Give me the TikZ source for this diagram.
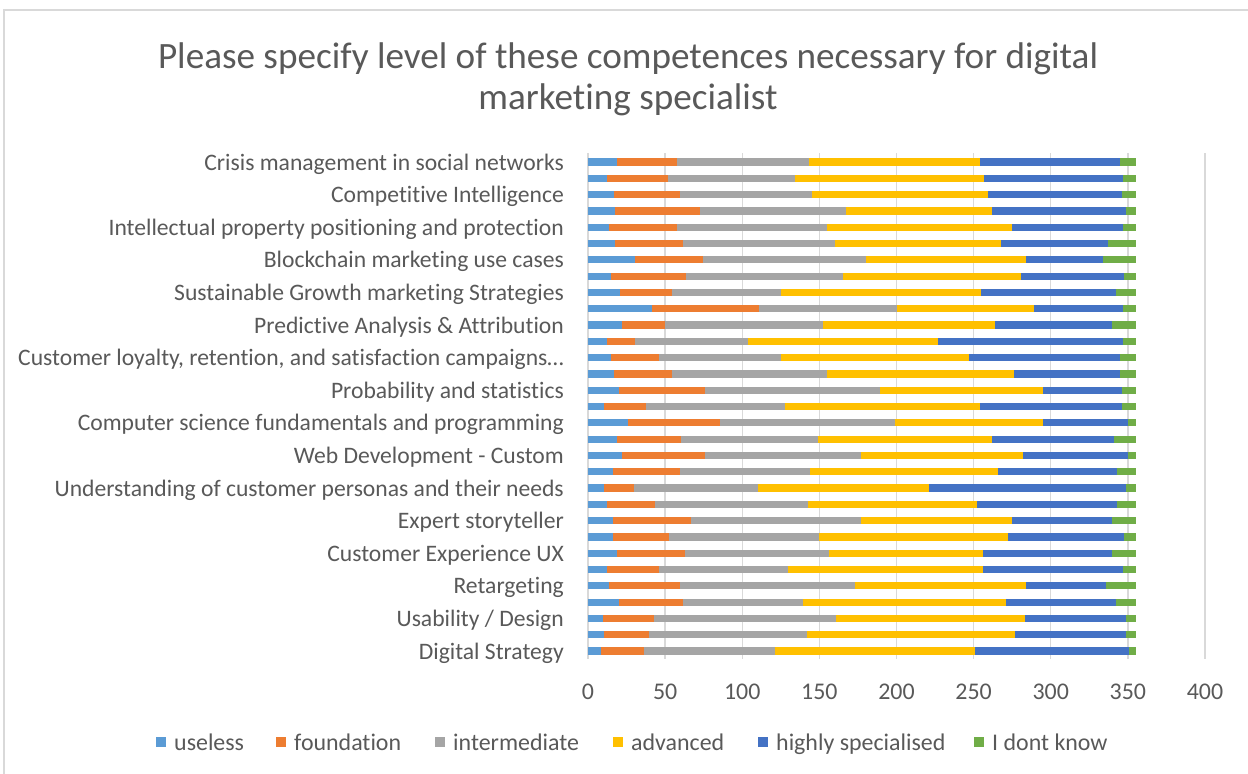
\documentclass[tikz,border=0pt]{standalone}
\usepackage{fontspec}
\setmainfont{Carlito}[Ligatures=NoCommon]
\definecolor{txt}{HTML}{595959}
\definecolor{gridc}{HTML}{D9D9D9}
\definecolor{cU}{HTML}{5B9BD5}
\definecolor{cF}{HTML}{ED7D31}
\definecolor{cI}{HTML}{A5A5A5}
\definecolor{cA}{HTML}{FFC000}
\definecolor{cH}{HTML}{4472C4}
\definecolor{cD}{HTML}{70AD47}
\tikzset{
  gridline/.style={draw=gridc, line width=1.3bp},
  ticklab/.style={anchor=base, inner sep=0pt, text=txt, font=\fontsize{24}{28}\selectfont},
  catlab/.style={anchor=base east, inner sep=0pt, text=txt, font=\fontsize{23.7}{28}\selectfont},
  legtext/.style={anchor=base west, inner sep=0pt, text=txt, font=\fontsize{24}{28}\selectfont},
  titletext/.style={anchor=base, inner sep=0pt, text=txt, font=\fontsize{37.3}{42}\selectfont},
  legbox/.style={minimum size=10.5bp, inner sep=0pt, anchor=south west}
}
\begin{document}
\begin{tikzpicture}[x=1bp,y=-1bp]
\useasboundingbox (0,0) rectangle (1248,774);
\fill[white] (0,0) rectangle (1248,774);
\begin{scope}
\clip (0,0) rectangle (1248,774);
\draw[draw=gridc, line width=2bp] (4,10) rectangle (1270,800);
\end{scope}
% title
\node[titletext] (title1) at (628,69) {Please specify level of these competences necessary for digital};
\node[titletext] (title2) at (628,110) {marketing specialist};
% grid and ticks
\foreach \v in {0,50,...,400} {
  \draw[gridline] ({588+1.5425*\v},153) -- ({588+1.5425*\v},659);
  \node[ticklab] (tick\v) at ({588+1.5425*\v},699) {\v};
}
% bars (cumulative values; total 355)
\foreach \i/\a/\b/\c/\d/\e in {
 1/19/58/143/254/345, 2/12.5/52/134/257/347, 3/17/59.5/145/259/346,
 4/17.5/72.5/167/262/349, 5/13.5/57.5/155/275/347, 6/17.5/61.5/160/268/337,
 7/30.5/74.5/180/284/334, 8/15/63.5/165/281/347.5, 9/20.5/54.5/125/255/342,
 10/41.5/111/200/289/347, 11/22/50/152.5/264/340, 12/12/30.5/103.5/227/347,
 13/15/46/125/247/345, 14/17/54.5/155/276/345, 15/20/76/189/295/346,
 16/10.5/37.5/127.5/254/346, 17/26/85.5/199/295/350, 18/19/60.5/149/262/341,
 19/22/76/177/282/350, 20/16/59.5/144/266/343, 21/10.5/29.5/110/221/349,
 22/12.5/43.5/142.5/252/343, 23/16/67/177/275/340, 24/16/52.5/150/272/347.5,
 25/19/63/156/256/340, 26/12/46/129.5/256/347, 27/13.5/59.5/173/284/336,
 28/20/61.5/139.5/271/342, 29/10/43/160.5/283/349, 30/10.5/39.5/142/277/349,
 31/8.5/36/121/251/350.5} {
  \pgfmathsetmacro\yc{162+(\i-1)*16.3}
  \pgfmathsetmacro\yt{\yc-3.6}
  \pgfmathsetmacro\yb{\yc+3.6}
  \fill[cU] (588,\yt) rectangle ({588+1.5425*\a},\yb);
  \fill[cF] ({588+1.5425*\a},\yt) rectangle ({588+1.5425*\b},\yb);
  \fill[cI] ({588+1.5425*\b},\yt) rectangle ({588+1.5425*\c},\yb);
  \fill[cA] ({588+1.5425*\c},\yt) rectangle ({588+1.5425*\d},\yb);
  \fill[cH] ({588+1.5425*\d},\yt) rectangle ({588+1.5425*\e},\yb);
  \fill[cD] ({588+1.5425*\e},\yt) rectangle ({588+1.5425*355},\yb);
}
% category labels
\node[catlab] (l1) at (564,{162+0*16.3+8}) {Crisis management in social networks};
\node[catlab] (l3) at (564,{162+2*16.3+8}) {Competitive Intelligence};
\node[catlab] (l5) at (564,{162+4*16.3+8}) {Intellectual property positioning and protection};
\node[catlab] (l7) at (564,{162+6*16.3+8}) {Blockchain marketing use cases};
\node[catlab] (l9) at (564,{162+8*16.3+8}) {Sustainable Growth marketing Strategies};
\node[catlab] (l11) at (564,{162+10*16.3+8}) {Predictive Analysis \& Attribution};
\node[catlab] (l13) at (564,{162+12*16.3+8}) {Customer loyalty, retention, and satisfaction campaigns…};
\node[catlab] (l15) at (564,{162+14*16.3+8}) {Probability and statistics};
\node[catlab] (l17) at (564,{162+16*16.3+8}) {Computer science fundamentals and programming};
\node[catlab] (l19) at (564,{162+18*16.3+8}) {Web Development - Custom\hspace{0.23em}};
\node[catlab] (l21) at (564,{162+20*16.3+8}) {Understanding of customer personas and their needs};
\node[catlab] (l23) at (564,{162+22*16.3+8}) {Expert storyteller};
\node[catlab] (l25) at (564,{162+24*16.3+8}) {Customer Experience UX};
\node[catlab] (l27) at (564,{162+26*16.3+8}) {Retargeting};
\node[catlab] (l29) at (564,{162+28*16.3+8}) {Usability / Design};
\node[catlab] (l31) at (564,{162+30*16.3+8}) {Digital Strategy};
% legend
\foreach \n/\xx/\cc/\tt in {u/174/cU/useless, f/294/cF/foundation, i/453/cI/intermediate,
  a/631/cA/advanced, h/776/cH/highly specialised, d/992/cD/I dont know} {
  \node[legbox, fill=\cc] (box\n) at ({\xx-18.5},747.5) {};
  \node[legtext] (leg\n) at (\xx,750) {\tt};
}
\end{tikzpicture}
\end{document}
